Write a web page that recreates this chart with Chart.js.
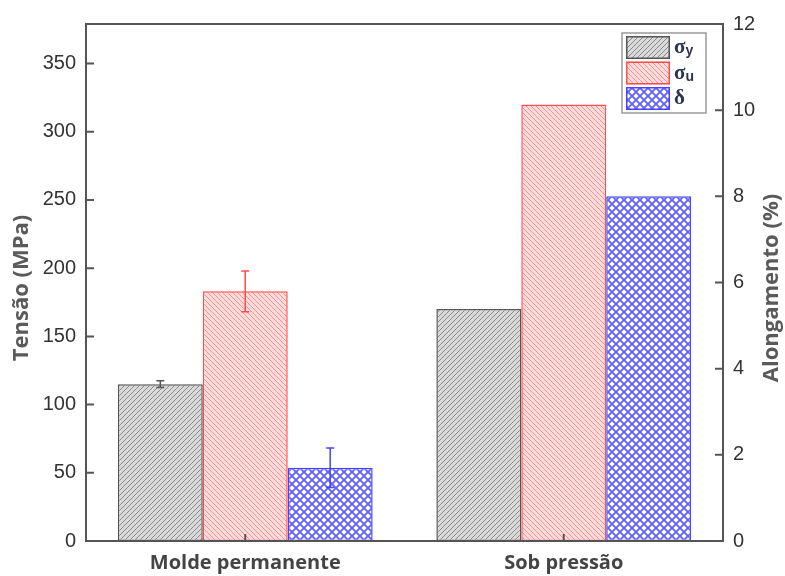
<!DOCTYPE html>
<html>
<head>
<meta charset="utf-8">
<script src="https://cdn.jsdelivr.net/npm/chart.js@4"></script>
<style>
  html, body { margin: 0; padding: 0; background: #fff; }
  #wrap { width: 785px; height: 576px; }
</style>
</head>
<body>
<div id="wrap"><canvas id="tensaoChart"></canvas></div>
<script>
// process categories
var processos = ['Molde permanente', 'Sob pressão'];

// yield strength (MPa)
var limiteEscoamento = [115, 170];
var erroEscoamento = [2.5, 0];

// ultimate strength (MPa)
var limiteResistencia = [183, 320];
var erroResistencia = [15, 0];

// elongation (%)
var alongamento = [1.7, 8];
var erroAlongamento = [0.46, 0];

var ticksTensao = [0, 50, 100, 150, 200, 250, 300, 350];
var ticksAlongamento = [0, 2, 4, 6, 8, 10, 12];

var simbolos = ['σ', 'σ', 'δ'];
var indices = ['y', 'u', ''];

function hachura(fundo, linha, tam, espessura, direcoes) {
    var c = document.createElement('canvas');
    c.width = tam; c.height = tam;
    var g = c.getContext('2d');
    g.fillStyle = fundo;
    g.fillRect(0, 0, tam, tam);
    g.strokeStyle = linha;
    g.lineWidth = espessura;
    direcoes.forEach(function(d) {
        g.beginPath();
        if (d === '/') {
            g.moveTo(-1, tam + 1); g.lineTo(tam + 1, -1);
            g.moveTo(-1, 1); g.lineTo(1, -1);
            g.moveTo(tam - 1, tam + 1); g.lineTo(tam + 1, tam - 1);
        } else {
            g.moveTo(-1, -1); g.lineTo(tam + 1, tam + 1);
            g.moveTo(tam - 1, -1); g.lineTo(tam + 1, 1);
            g.moveTo(-1, tam - 1); g.lineTo(1, tam + 1);
        }
        g.stroke();
    });
    return g.createPattern(c, 'repeat');
}

var padraoCinza = hachura('#d9d9d9', '#8a8a8a', 5, 1, ['/']);
var padraoVermelho = hachura('#ffdcdc', '#ff8f8f', 5, 1, ['\\']);
var padraoAzul = hachura('#ffffff', '#6262ff', 8, 1.9, ['/', '\\']);

// error bars, frame, inward ticks, axis titles and legend box
var acabamentoPlugin = {
    id: 'acabamento',
    afterDatasetsDraw: function(chart) {
        var ctx = chart.ctx;
        var a = chart.chartArea;
        ctx.save();

        chart.data.datasets.forEach(function(ds, di) {
            var meta = chart.getDatasetMeta(di);
            var escala = chart.scales[ds.yAxisID];
            meta.data.forEach(function(bar, i) {
                var e = ds.erros[i];
                if (!e) return;
                var yTop = escala.getPixelForValue(ds.data[i] + e);
                var yBot = escala.getPixelForValue(ds.data[i] - e);
                ctx.strokeStyle = ds.borderColor;
                ctx.lineWidth = 1.5;
                ctx.beginPath();
                ctx.moveTo(bar.x, yTop); ctx.lineTo(bar.x, yBot);
                ctx.moveTo(bar.x - 4, yTop); ctx.lineTo(bar.x + 4, yTop);
                ctx.moveTo(bar.x - 4, yBot); ctx.lineTo(bar.x + 4, yBot);
                ctx.stroke();
            });
        });

        ctx.strokeStyle = '#555';
        ctx.lineWidth = 2;
        ctx.strokeRect(a.left, a.top, a.right - a.left, a.bottom - a.top);

        ctx.beginPath();
        chart.scales.y.ticks.forEach(function(t) {
            var py = chart.scales.y.getPixelForValue(t.value);
            ctx.moveTo(a.left, py); ctx.lineTo(a.left + 8, py);
        });
        chart.scales.y1.ticks.forEach(function(t) {
            var py = chart.scales.y1.getPixelForValue(t.value);
            ctx.moveTo(a.right, py); ctx.lineTo(a.right - 8, py);
        });
        chart.scales.x.ticks.forEach(function(t, i) {
            var px = chart.scales.x.getPixelForTick(i);
            ctx.moveTo(px, a.bottom); ctx.lineTo(px, a.bottom - 7);
        });
        ctx.stroke();

        // axis titles
        ctx.fillStyle = '#5a5a5a';
        ctx.font = "bold 22px 'Open Sans'";
        ctx.textAlign = 'center';
        ctx.textBaseline = 'middle';
        ctx.save();
        ctx.translate(22, 288);
        ctx.rotate(-Math.PI / 2);
        ctx.fillText('Tensão (MPa)', 0, 0);
        ctx.restore();
        ctx.save();
        ctx.translate(772, 288);
        ctx.rotate(-Math.PI / 2);
        ctx.fillText('Alongamento (%)', 0, 0);
        ctx.restore();

        // legend
        var lx = 622, ly = 33, lw = 84, lh = 80;
        ctx.fillStyle = '#fff';
        ctx.fillRect(lx, ly, lw, lh);
        ctx.strokeStyle = '#999';
        ctx.lineWidth = 1.5;
        ctx.strokeRect(lx, ly, lw, lh);
        chart.data.datasets.forEach(function(ds, di) {
            var ry = ly + 3 + di * 25.5;
            ctx.fillStyle = ds.backgroundColor;
            ctx.fillRect(lx + 4, ry, 44, 23);
            ctx.strokeStyle = ds.borderColor;
            ctx.lineWidth = 1.5;
            ctx.strokeRect(lx + 4.75, ry + 0.75, 42.5, 21.5);
            ctx.fillStyle = '#2c3550';
            ctx.textAlign = 'left';
            ctx.textBaseline = 'alphabetic';
            ctx.font = "bold 21px 'Liberation Serif'";
            ctx.fillText(simbolos[di], lx + 52, ry + 17);
            var w = ctx.measureText(simbolos[di]).width;
            ctx.font = "bold 14px 'Liberation Sans'";
            ctx.fillText(indices[di], lx + 52 + w, ry + 19);
        });

        ctx.restore();
    }
};

var ctx = document.getElementById('tensaoChart').getContext('2d');
var tensaoChart = new Chart(ctx, {
    type: 'bar',
    data: {
        labels: processos,
        datasets: [{
            label: 'σy',
            data: limiteEscoamento,
            erros: erroEscoamento,
            yAxisID: 'y',
            backgroundColor: padraoCinza,
            borderColor: '#555555',
            borderWidth: 1.5,
            borderSkipped: false
        }, {
            label: 'σu',
            data: limiteResistencia,
            erros: erroResistencia,
            yAxisID: 'y',
            backgroundColor: padraoVermelho,
            borderColor: '#ff4d4d',
            borderWidth: 1.5,
            borderSkipped: false
        }, {
            label: 'δ',
            data: alongamento,
            erros: erroAlongamento,
            yAxisID: 'y1',
            backgroundColor: padraoAzul,
            borderColor: '#4444ff',
            borderWidth: 1.5,
            borderSkipped: false
        }]
    },
    options: {
        responsive: true,
        maintainAspectRatio: false,
        animation: false,
        layout: { padding: { top: 24, left: 0, right: 0, bottom: 0 } },
        datasets: { bar: { categoryPercentage: 0.8, barPercentage: 1 } },
        plugins: {
            legend: { display: false },
            tooltip: { enabled: false }
        },
        scales: {
            x: {
                offset: true,
                grid: { display: false, drawTicks: false },
                border: { display: false },
                ticks: {
                    color: '#444',
                    padding: 10,
                    font: { family: "'Open Sans'", size: 20, weight: 'bold' }
                },
                afterFit: function(s) { s.height = 35; }
            },
            y: {
                position: 'left',
                min: 0,
                max: 379,
                afterBuildTicks: function(s) {
                    s.ticks = ticksTensao.map(function(v) { return { value: v }; });
                },
                grid: { display: false, drawTicks: false },
                border: { display: false },
                ticks: {
                    color: '#333',
                    padding: 10,
                    font: { family: "'Liberation Sans'", size: 20 }
                },
                afterFit: function(s) { s.width = 86; }
            },
            y1: {
                position: 'right',
                min: 0,
                max: 12,
                afterBuildTicks: function(s) {
                    s.ticks = ticksAlongamento.map(function(v) { return { value: v }; });
                },
                grid: { display: false, drawTicks: false },
                border: { display: false },
                ticks: {
                    color: '#333',
                    padding: 10,
                    font: { family: "'Liberation Sans'", size: 20 }
                },
                afterFit: function(s) { s.width = 62; }
            }
        }
    },
    plugins: [acabamentoPlugin]
});
</script>
</body>
</html>
